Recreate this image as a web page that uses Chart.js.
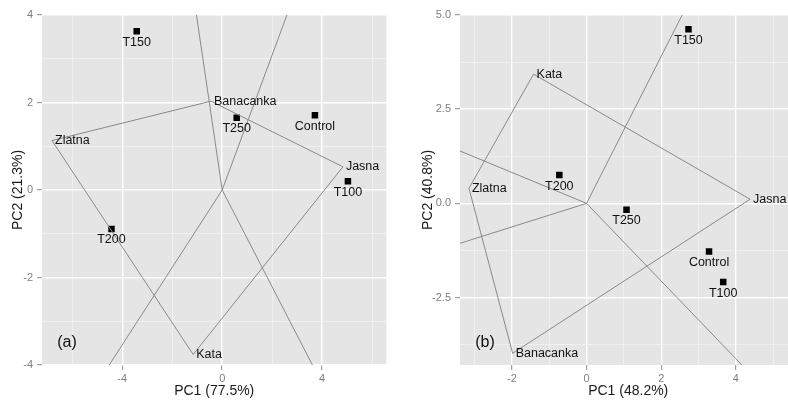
<!DOCTYPE html>
<html>
<head>
<meta charset="utf-8">
<script src="https://cdn.jsdelivr.net/npm/chart.js@4/dist/chart.umd.min.js"></script>
<style>
  html, body { margin: 0; padding: 0; background: #fff; overflow: hidden; width: 788px; height: 400px; }
  canvas { position: absolute; top: 0; }
  #panelA { left: 0; }
  #panelB { left: 394px; }
</style>
</head>
<body>
<canvas id="panelA" width="391" height="400"></canvas>
<canvas id="panelB" width="407" height="400"></canvas>
<script>
// ---------- Panel (a): PC1 77.5 %, PC2 21.3 % ----------
const treatmentsA = ['T150', 'T250', 'Control', 'T100', 'T200'];
const treatPC1A = [-3.42, 0.58, 3.71, 5.03, -4.43];
const treatPC2A = [3.63, 1.65, 1.71, 0.20, -0.89];

// polygon vertices, in drawing order
const genotypesA = ['Zlatna', 'Banacanka', 'Jasna', 'Kata'];
const genoPC1A = [-6.81, -0.45, 4.83, -1.16];
const genoPC2A = [1.13, 2.03, 0.53, -3.76];

// rays from the origin, perpendicular to the polygon sides
const rayEndPC1A = [-1.03, 2.59, -4.52, 3.61];
const rayEndPC2A = [4, 4, -4, -4];

const xMajorA = [-4, 0, 4];
const xMinorA = [-6, -2, 2, 6];
const yMajorA = [-4, -2, 0, 2, 4];
const yMinorA = [-3, -1, 1, 3];

// ---------- Panel (b): PC1 48.2 %, PC2 40.8 % ----------
const treatmentsB = ['T150', 'T200', 'T250', 'Control', 'T100'];
const treatPC1B = [2.73, -0.73, 1.07, 3.28, 3.66];
const treatPC2B = [4.62, 0.75, -0.17, -1.28, -2.09];

const genotypesB = ['Kata', 'Jasna', 'Banacanka', 'Zlatna'];
const genoPC1B = [-1.42, 4.38, -1.98, -3.15];
const genoPC2B = [3.43, 0.11, -3.98, 0.40];

const rayEndPC1B = [2.56, -3.39, -3.39, 4.16];
const rayEndPC2B = [5.0, 1.39, -1.06, -4.29];

const xMajorB = [-2, 0, 2, 4];
const xMinorB = [-3, -1, 1, 3, 5];
const yMajorB = [-2.5, 0, 2.5, 5];
const yMinorB = [-3.75, -1.25, 1.25, 3.75];

const FONT = "'Liberation Sans', Arial, sans-serif";
const LINE_GREY = '#8a8a8a';

const panelBackground = {
  id: 'panelBackground',
  beforeDraw(chart) {
    const { ctx, chartArea: a } = chart;
    ctx.save();
    ctx.fillStyle = '#e5e5e5';
    ctx.fillRect(a.left, a.top, a.right - a.left, a.bottom - a.top);
    ctx.restore();
  }
};

const biplotLabels = {
  id: 'biplotLabels',
  afterDatasetsDraw(chart, args, opts) {
    const { ctx, chartArea: a } = chart;
    const xs = chart.scales.x, ys = chart.scales.y;
    ctx.save();
    ctx.beginPath();
    ctx.rect(a.left, a.top, a.right - a.left, a.bottom - a.top);
    ctx.clip();
    ctx.fillStyle = '#111';
    ctx.font = '12.5px ' + FONT;
    // treatment names under their markers
    ctx.textAlign = 'center';
    ctx.textBaseline = 'middle';
    opts.treat.names.forEach((n, i) => {
      ctx.fillText(n, xs.getPixelForValue(opts.treat.x[i]), ys.getPixelForValue(opts.treat.y[i]) + 11);
    });
    // genotype names at the polygon vertices
    ctx.textAlign = 'left';
    opts.geno.names.forEach((n, i) => {
      ctx.fillText(n, xs.getPixelForValue(opts.geno.x[i]) + 3, ys.getPixelForValue(opts.geno.y[i]));
    });
    // panel tag
    ctx.font = '16px ' + FONT;
    ctx.textAlign = 'center';
    ctx.fillText(opts.tag, a.left + 25, a.bottom - 22);
    ctx.restore();
  }
};

function axis(min, max, major, minor, fmt, title, titlePad, isY, size) {
  const all = major.concat(minor).sort((p, q) => p - q);
  const isMajor = v => major.some(m => Math.abs(m - v) < 1e-9);
  return {
    type: 'linear',
    min: min,
    max: max,
    afterBuildTicks(scale) { scale.ticks = all.map(v => ({ value: v })); },
    afterFit(scale) { if (isY) scale.width = size; else scale.height = size; },
    border: { display: false },
    grid: {
      color: c => isMajor(c.tick.value) ? '#ffffff' : '#f2f2f2',
      lineWidth: c => isMajor(c.tick.value) ? 1.4 : 0.8,
      tickColor: c => isMajor(c.tick.value) ? '#8a8a8a' : 'rgba(0,0,0,0)',
      tickLength: 5,
      tickWidth: 1,
      drawTicks: true
    },
    ticks: {
      autoSkip: false,
      maxRotation: 0,
      padding: isY ? 4 : 2,
      color: '#7f7f7f',
      font: { family: FONT, size: 11 },
      callback: v => isMajor(v) ? fmt(v) : ''
    },
    title: {
      display: true,
      text: title,
      color: '#1a1a1a',
      font: { family: FONT, size: 14 },
      padding: titlePad
    }
  };
}

function buildPanel(id, d) {
  const pts = (xs, ys) => xs.map((x, i) => ({ x: x, y: ys[i] }));
  const poly = pts(d.gx, d.gy);
  poly.push(poly[0]);
  const lineStyle = { type: 'line', showLine: true, borderColor: LINE_GREY, borderWidth: 1,
                      pointRadius: 0, fill: false, tension: 0 };
  const datasets = [Object.assign({ label: 'polygon', data: poly }, lineStyle)];
  d.rx.forEach((x, i) => {
    datasets.push(Object.assign({ label: 'ray' + i, data: [{ x: 0, y: 0 }, { x: x, y: d.ry[i] }] }, lineStyle));
  });
  datasets.push({
    type: 'scatter', label: 'treatments', data: pts(d.tx, d.ty),
    pointStyle: 'rect', pointRadius: 4.6, backgroundColor: '#000', borderColor: '#000', borderWidth: 0
  });
  return new Chart(document.getElementById(id), {
    type: 'scatter',
    data: { datasets: datasets },
    options: {
      responsive: false,
      animation: false,
      devicePixelRatio: 1,
      layout: { padding: { top: 15, right: 0, bottom: 0, left: 0 } },
      plugins: {
        legend: { display: false },
        tooltip: { enabled: false },
        biplotLabels: {
          treat: { names: d.tn, x: d.tx, y: d.ty },
          geno: { names: d.gn, x: d.gx, y: d.gy },
          tag: d.tag
        }
      },
      scales: {
        x: axis(d.xmin, d.xmax, d.xMajor, d.xMinor, d.xfmt, d.xTitle, { top: 0, bottom: 0 }, false, 35),
        y: axis(d.ymin, d.ymax, d.yMajor, d.yMinor, d.yfmt, d.yTitle, { top: d.yTitlePad, bottom: 0 }, true, d.yAxisWidth)
      }
    },
    plugins: [panelBackground, biplotLabels]
  });
}

buildPanel('panelA', {
  tn: treatmentsA, tx: treatPC1A, ty: treatPC2A,
  gn: genotypesA, gx: genoPC1A, gy: genoPC2A,
  rx: rayEndPC1A, ry: rayEndPC2A,
  xmin: -7.21, xmax: 6.57, ymin: -4, ymax: 4,
  xMajor: xMajorA, xMinor: xMinorA, yMajor: yMajorA, yMinor: yMinorA,
  xfmt: v => String(v), yfmt: v => String(v),
  xTitle: 'PC1 (77.5%)', yTitle: 'PC2 (21.3%)',
  yTitlePad: 10, yAxisWidth: 42, tag: '(a)'
});

buildPanel('panelB', {
  tn: treatmentsB, tx: treatPC1B, ty: treatPC2B,
  gn: genotypesB, gx: genoPC1B, gy: genoPC2B,
  rx: rayEndPC1B, ry: rayEndPC2B,
  xmin: -3.39, xmax: 5.62, ymin: -4.29, ymax: 5.0,
  xMajor: xMajorB, xMinor: xMinorB, yMajor: yMajorB, yMinor: yMinorB,
  xfmt: v => String(v), yfmt: v => v.toFixed(1),
  xTitle: 'PC1 (48.2%)', yTitle: 'PC2 (40.8%)',
  yTitlePad: 26, yAxisWidth: 66, tag: '(b)'
});
</script>
</body>
</html>
